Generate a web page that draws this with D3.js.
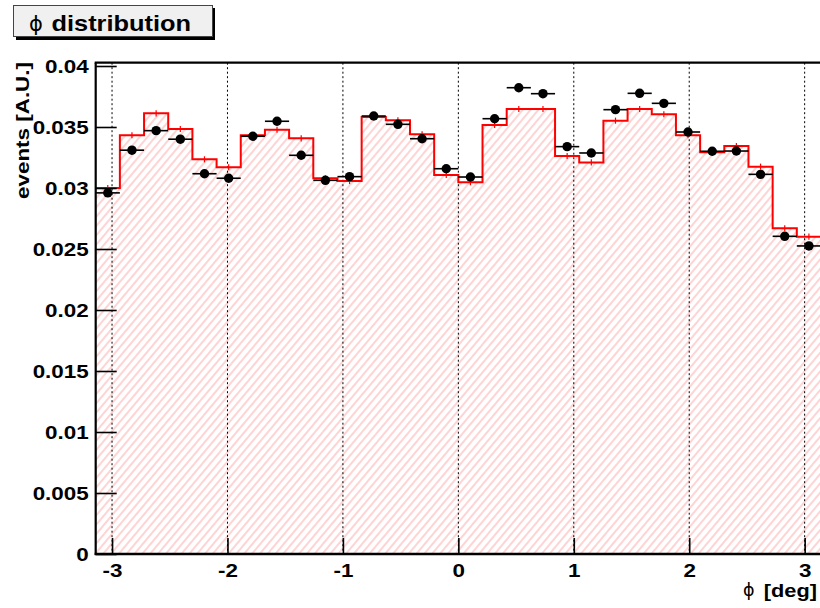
<!DOCTYPE html>
<html>
<head>
<meta charset="utf-8">
<script src="https://cdn.jsdelivr.net/npm/d3@7"></script>
<style>
  html, body { margin: 0; padding: 0; background: #fff; }
  svg { display: block; }
</style>
</head>
<body>
<div id="chart"></div>
<script>
// ---- data ----
const nBins = 30;
const phiMin = -Math.PI, phiMax = Math.PI;
const mcValues = [0.0300,0.03432,0.03612,0.03484,0.03235,0.0317,0.03432,0.03478,0.03407,0.0308,
                  0.03057,0.03582,0.03555,0.0344,0.03107,0.03047,0.03516,0.03648,0.03648,0.03262,
                  0.0321,0.03552,0.03648,0.03604,0.03432,0.03293,0.03344,0.03175,0.0267,0.02601];
const dataValues = [0.0296,0.0331,0.0347,0.0340,0.03117,0.0308,0.03424,0.03547,0.03268,0.03063,
                    0.03093,0.0359,0.03522,0.03404,0.03158,0.0309,0.03568,0.03822,0.03773,0.03339,
                    0.03287,0.03642,0.03776,0.03694,0.03459,0.03301,0.03303,0.03112,0.02604,0.02525];
const mcError = 0.00025;
const dataError = 0.0003;
const xTicks = [-3,-2,-1,0,1,2,3];
const xTickLabels = ["-3","-2","-1","0","1","2","3"];
const yTicks = [0,0.005,0.01,0.015,0.02,0.025,0.03,0.035,0.04];
const yTickLabels = ["0","0.005","0.01","0.015","0.02","0.025","0.03","0.035","0.04"];
const phiSymbol = "\u03D5";
const titleText = "distribution";
const xTitle = "[deg]";
const yTitle = "events [A.U.]";

// ---- layout ----
const W = 820, H = 608;
const SX = 1.18;          // horizontal text stretch
const FONT = "'Liberation Sans', Arial, Helvetica, sans-serif";
const x = d3.scaleLinear([phiMin, phiMax], [95.7, 821]);
const y = d3.scaleLinear([0, 0.04027], [554, 62.7]);
const binW = (phiMax - phiMin) / nBins;
const lo = i => phiMin + i * binW;

const svg = d3.select("#chart").append("svg").attr("width", W).attr("height", H);
const defs = svg.append("defs");
const pat = defs.append("pattern").attr("id", "hatch").attr("patternUnits", "userSpaceOnUse")
  .attr("width", 6).attr("height", 6).attr("patternTransform", "rotate(40)");
pat.append("line").attr("x1", 3).attr("y1", -1).attr("x2", 3).attr("y2", 7)
  .attr("stroke", "#ffa8a8").attr("stroke-width", 1);

// step outline points
const pts = [[phiMin, 0]];
mcValues.forEach((v, i) => { pts.push([lo(i), v]); pts.push([lo(i + 1), v]); });
pts.push([phiMax, 0]);
const line = d3.line().x(d => x(d[0])).y(d => y(d[1]));

svg.append("path").attr("d", line(pts) + "Z").attr("fill", "url(#hatch)").attr("stroke", "none");

// grid
svg.append("g").selectAll("line").data(xTicks).join("line")
  .attr("x1", d => x(d)).attr("x2", d => x(d)).attr("y1", y.range()[1]).attr("y2", y(0))
  .attr("stroke", "#000").attr("stroke-width", 1).attr("stroke-dasharray", "2,2.5");

// MC histogram outline
svg.append("path").attr("d", line(pts.slice(1, pts.length - 1))).attr("fill", "none")
  .attr("stroke", "#ff0000").attr("stroke-width", 2);
svg.append("g").selectAll("line").data(mcValues).join("line")
  .attr("x1", (d, i) => x(lo(i) + binW / 2)).attr("x2", (d, i) => x(lo(i) + binW / 2))
  .attr("y1", d => y(d - mcError)).attr("y2", d => y(d + mcError))
  .attr("stroke", "#ff0000").attr("stroke-width", 1.2);

// data points
const gd = svg.append("g");
gd.selectAll("line.h").data(dataValues).join("line").attr("class", "h")
  .attr("x1", (d, i) => x(lo(i))).attr("x2", (d, i) => x(lo(i + 1)))
  .attr("y1", d => y(d)).attr("y2", d => y(d)).attr("stroke", "#000").attr("stroke-width", 1.6);
gd.selectAll("line.v").data(dataValues).join("line").attr("class", "v")
  .attr("x1", (d, i) => x(lo(i) + binW / 2)).attr("x2", (d, i) => x(lo(i) + binW / 2))
  .attr("y1", d => y(d - dataError)).attr("y2", d => y(d + dataError)).attr("stroke", "#000").attr("stroke-width", 1.4);
gd.selectAll("circle").data(dataValues).join("circle")
  .attr("cx", (d, i) => x(lo(i) + binW / 2)).attr("cy", d => y(d)).attr("r", 4.7).attr("fill", "#000");

// axes
const xAxis = d3.axisBottom(x).tickValues(xTicks).tickFormat((d, i) => xTickLabels[i])
  .tickSizeInner(-16).tickSizeOuter(0);
const gx = svg.append("g").attr("transform", `translate(0,${y(0)})`).call(xAxis);
gx.select(".domain").remove();
gx.selectAll(".tick line").attr("stroke", "#000").attr("stroke-width", 1.6);
gx.selectAll(".tick text").attr("font-family", FONT).attr("font-weight", "bold").attr("font-size", 19)
  .attr("fill", "#000").attr("y", 0).attr("dy", 0).attr("transform", `translate(0,22.5) scale(${SX},1)`);

const yAxis = d3.axisLeft(y).tickValues(yTicks).tickFormat((d, i) => yTickLabels[i])
  .tickSizeInner(-21).tickSizeOuter(0);
const gy = svg.append("g").attr("transform", `translate(${x(phiMin)},0)`).call(yAxis);
gy.select(".domain").remove();
gy.selectAll(".tick line").attr("stroke", "#000").attr("stroke-width", 1.6);
gy.selectAll(".tick text").attr("font-family", FONT).attr("font-weight", "bold").attr("font-size", 19)
  .attr("fill", "#000").attr("x", 0).attr("dy", "0.36em").attr("text-anchor", "end")
  .attr("transform", `translate(-7,0) scale(${SX},1)`);

// frame
svg.append("line").attr("x1", x(phiMin)).attr("x2", x(phiMin)).attr("y1", y.range()[1]).attr("y2", y(0) + 1)
  .attr("stroke", "#000").attr("stroke-width", 2.2);
svg.append("line").attr("x1", x(phiMin) - 1).attr("x2", W).attr("y1", y(0)).attr("y2", y(0))
  .attr("stroke", "#000").attr("stroke-width", 2.4);
svg.append("line").attr("x1", x(phiMin) - 1).attr("x2", W).attr("y1", y.range()[1]).attr("y2", y.range()[1])
  .attr("stroke", "#000").attr("stroke-width", 2.2);

// axis titles
svg.append("text").attr("transform", `translate(29,62) rotate(-90) scale(${SX},1)`)
  .attr("text-anchor", "end").attr("font-family", FONT).attr("font-weight", "bold").attr("font-size", 19)
  .attr("fill", "#000").text(yTitle);
svg.append("text").attr("transform", `translate(817,597) scale(1.21,1)`)
  .attr("text-anchor", "end").attr("font-family", FONT).attr("font-weight", "bold").attr("font-size", 18)
  .attr("fill", "#000").text(xTitle);
svg.append("text").attr("x", 743).attr("y", 596).attr("font-family", "'DejaVu Sans', sans-serif")
  .attr("font-size", 17.5).attr("fill", "#000").text(phiSymbol);

// title box
svg.append("rect").attr("x", 16).attr("y", 8).attr("width", 199).attr("height", 32).attr("fill", "#000");
svg.append("rect").attr("x", 13.5).attr("y", 5.5).attr("width", 199).attr("height", 31)
  .attr("fill", "#f0f0f0").attr("stroke", "#444").attr("stroke-width", 1);
svg.append("text").attr("x", 29).attr("y", 31).attr("font-family", "'DejaVu Sans', sans-serif")
  .attr("font-size", 21).attr("fill", "#000").text(phiSymbol);
svg.append("text").attr("transform", `translate(51.5,30.8) scale(${SX},1)`)
  .attr("font-family", FONT).attr("font-weight", "bold").attr("font-size", 21.5)
  .attr("fill", "#000").text(titleText);
</script>
</body>
</html>
